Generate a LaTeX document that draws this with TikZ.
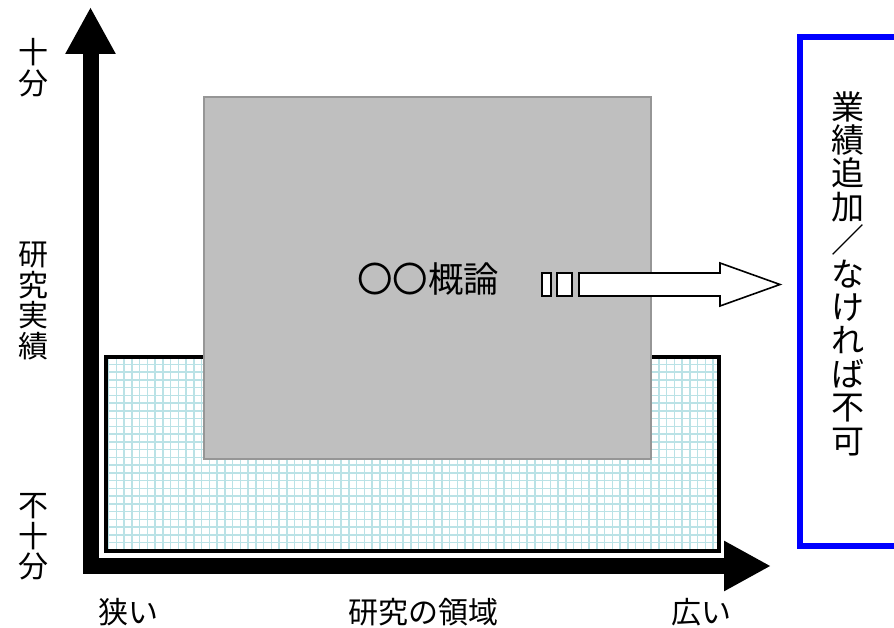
\documentclass[tikz,border=0pt]{standalone}
\usepackage{fontspec}
\setmainfont{Noto Sans CJK JP}
\usepackage{tikz}
\usetikzlibrary{arrows.meta}

\definecolor{gridline}{RGB}{186,226,230}
\definecolor{coursefill}{RGB}{191,191,191}
\definecolor{courseedge}{RGB}{150,150,150}

\begin{document}
\begin{tikzpicture}[x=1pt, y=-1pt,
	axis/.style={line width=16pt, line join=miter, {Triangle[width=47pt,length=47pt]}-{Triangle[width=47pt,length=47pt]}},
	lbl/.style={inner sep=0pt, align=center, font=\fontsize{30}{30.5}\selectfont},
	hollow/.style={draw, fill=white, line width=1.6pt}]
			\useasboundingbox (0,0) rectangle (894,628);
			\pgfmathsetmacro\cell{7.75}

			\coordinate (ytip) at (90.5,7);
			\coordinate (origin) at (90.5,566);
			\coordinate (xtip) at (771,566);

			\coordinate (bl) at (106,357);
			\coordinate (br) at (719,551);
			\coordinate (cl) at (204,97);
			\coordinate (cr) at (651,459);

			\begin{scope}
				\clip (bl) rectangle (br);
				\fill [white] (bl) rectangle (br);
				\draw [color=gridline, line width=1.5pt, step=\cell pt] (bl) grid (br);
			\end{scope}
			\draw [line width=4.5pt] (bl) rectangle (br);

			\draw [fill=coursefill, draw=courseedge, line width=1.5pt] (cl) rectangle (cr);
			\node [inner sep=0pt, font=\fontsize{35.5}{35.5}\selectfont] (course) at (428,279.5) {〇〇概論};

			\draw [color=blue, line width=6pt] (900,37) -- (800,37) -- (800,546) -- (900,546);
			\node [lbl, font=\fontsize{33}{33.4}\selectfont] (note) at (847.5,273.5) {業\\績\\追\\加\\／\\な\\け\\れ\\ば\\不\\可};

			\coordinate (tail) at (579,284.5);
			\coordinate (tip) at (780,284.5);
			\draw [hollow] (542,273) rectangle (551,296);
			\draw [hollow] (557,273) rectangle (572,296);
			\draw [hollow] (tail) ++(0,-11.5) -- ++(141,0) -- ++(0,-10) -- (tip) -- ++(-60,21.5) -- ++(0,-10) -- ++(-141,0) -- cycle;

			\draw [axis] (ytip) -- (origin) -- (xtip);

			\node [lbl] (enough) at (33,67.5) {十\\分};
			\node [lbl] (record) at (33,301) {研\\究\\実\\績};
			\node [lbl] (lack) at (34,537) {不\\十\\分};
			\node [lbl] (narrow) at (128.5,612) {狭い};
			\node [lbl] (field) at (423.5,612) {研究の領域};
			\node [lbl] (wide) at (701,612) {広い};

		\end{tikzpicture}
\end{document}
